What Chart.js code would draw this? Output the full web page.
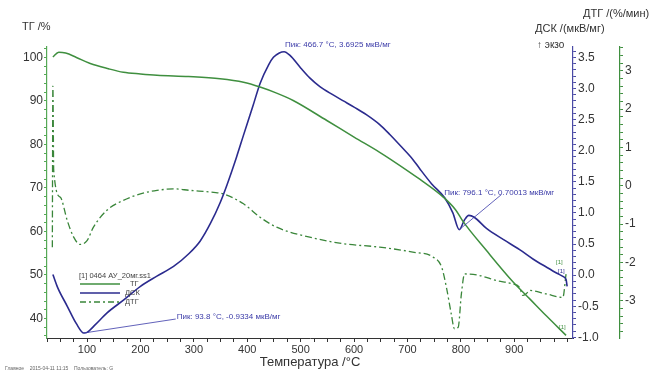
<!DOCTYPE html>
<html>
<head>
<meta charset="utf-8">
<script src="https://cdn.jsdelivr.net/npm/chart.js@4.4.0/dist/chart.umd.min.js"></script>
<style>
html, body { margin: 0; padding: 0; background: #fff; }
</style>
</head>
<body>
<canvas id="myChart" width="661" height="377"></canvas>
<script>
// temperatures (°C) and values
const tgTemp = [36, 47, 60, 80, 106, 140, 168, 200, 231, 290, 349, 393, 424, 455, 486, 549, 600, 648, 667, 723, 767, 790, 804, 848, 897, 929, 960, 997];
const tgValues = [100.1, 101.2, 101.0, 100.0, 98.6, 97.4, 96.6, 96.2, 95.9, 95.6, 95.1, 94.3, 93.2, 91.8, 90.1, 85.5, 81.7, 78.2, 76.7, 72.0, 67.9, 65.0, 62.3, 55.6, 48.5, 44.5, 40.6, 36.1];

const dscTemp = [36, 45, 63, 80, 94, 100, 115, 137, 170, 200, 230, 262, 290, 312, 331, 349, 362, 380, 393, 410, 424, 440, 449, 460, 469, 480, 500, 517, 536, 560, 580, 600, 623, 648, 667, 690, 710, 723, 745, 770, 785, 797, 807, 815, 825, 848, 880, 910, 935, 960, 980, 991, 997, 999];
const dscValues = [0.01, -0.2, -0.5, -0.78, -0.93, -0.92, -0.8, -0.61, -0.39, -0.18, -0.02, 0.14, 0.34, 0.55, 0.83, 1.16, 1.45, 1.9, 2.25, 2.7, 3.08, 3.38, 3.5, 3.57, 3.59, 3.53, 3.33, 3.17, 3.03, 2.9, 2.8, 2.7, 2.58, 2.42, 2.26, 2.05, 1.86, 1.71, 1.47, 1.24, 1.0, 0.73, 0.89, 0.96, 0.93, 0.75, 0.57, 0.41, 0.26, 0.13, 0.03, -0.02, -0.07, -0.18];

const dtgTemp = [35, 36, 37.6, 50, 63, 75, 87, 100, 112, 137, 168, 200, 231, 262, 293, 337, 355, 393, 424, 455, 517, 580, 648, 710, 748, 764, 773, 782, 788, 795, 801, 807, 835, 866, 897, 910, 916, 922, 929, 960, 991, 997];
const dtgValues = [-1.6, 2.6, 0.4, -0.3, -0.91, -1.34, -1.53, -1.43, -1.08, -0.64, -0.38, -0.21, -0.12, -0.08, -0.12, -0.17, -0.21, -0.47, -0.82, -1.08, -1.34, -1.51, -1.6, -1.73, -1.86, -2.12, -2.65, -3.34, -3.73, -3.69, -2.82, -2.3, -2.34, -2.47, -2.56, -2.65, -2.86, -2.82, -2.73, -2.82, -2.91, -2.3];

// peak labels: [temperature, dsc value, text]
const peakLabels = [
    [469, 3.59, 'Пик: 466.7 °C, 3.6925 мкВ/мг'],
    [93.8, -0.93, 'Пик: 93.8 °C, -0.9334 мкВ/мг'],
    [797, 0.73, 'Пик: 796.1 °C, 0.70013 мкВ/мг']
];

const seriesNames = ['ТГ', 'ДСК', 'ДТГ'];

const tgColor = '#3f8f3f';
const dscColor = '#2b2b8e';
const dtgColor = '#3a863a';
const font = '"Liberation Sans", Arial, sans-serif';

function pts(xs, ys) {
    return xs.map((x, i) => ({ x: x, y: ys[i] }));
}

function makeTicks(min, max, step) {
    let out = [];
    let start = Math.ceil(min / step - 1e-9);
    for (let i = start; i * step <= max + 1e-9; i++) {
        out.push({ value: +(i * step).toFixed(4) });
    }
    return out;
}

function isMajor(v, major) {
    return Math.abs(v / major - Math.round(v / major)) < 1e-6;
}

const overlay = {
    id: 'overlay',
    afterDraw(chart) {
        const c = chart.ctx;
        const xs = chart.scales.x, yd = chart.scales.yDSC;
        c.save();
        c.textBaseline = 'middle';
        c.textAlign = 'left';
        c.fillStyle = '#333';
        c.font = '11px ' + font;
        c.fillText('ТГ /%', 22, 27);
        c.fillText('ДТГ /(%/мин)', 583, 14);
        c.fillText('ДСК /(мкВ/мг)', 535, 29);
        c.font = '10px ' + font;
        c.fillText('↑ экзо', 537, 45);
        c.font = '13px ' + font;
        c.textAlign = 'center';
        c.fillText('Температура /°C', 310, 362);

        c.textAlign = 'left';
        c.font = '5px ' + font;
        c.fillStyle = '#666';
        c.fillText('Главное    2015-04-11 11:15    Пользователь: G', 5, 369);

        // legend
        c.font = '7.5px ' + font;
        c.fillStyle = '#444';
        c.fillText('[1] 0464 АУ_20мг.ss1', 79, 276);
        const rows = [[tgColor, [], 284], [dscColor, [], 293], [dtgColor, [6, 3, 2, 3], 302]];
        rows.forEach((r, i) => {
            c.strokeStyle = r[0];
            c.lineWidth = 1.3;
            c.setLineDash(r[1]);
            c.beginPath();
            c.moveTo(80, r[2]);
            c.lineTo(120, r[2]);
            c.stroke();
            c.setLineDash([]);
            c.fillStyle = '#444';
            c.fillText(seriesNames[i], i === 0 ? 130 : 125, r[2]);
        });

        // peak annotations
        c.font = '8px ' + font;
        c.fillStyle = '#3a3aa8';
        c.strokeStyle = '#3a3aa8';
        c.lineWidth = 0.8;
        const offs = [[1, -7, null], [93, -16, [92, -14]], [-15, -37, [42, -35]]];
        peakLabels.forEach((p, i) => {
            const px = xs.getPixelForValue(p[0]);
            const py = yd.getPixelForValue(p[1]);
            const o = offs[i];
            if (o[2]) {
                c.beginPath();
                c.moveTo(px, py);
                c.lineTo(px + o[2][0], py + o[2][1]);
                c.stroke();
            }
            c.fillText(p[2], px + o[0], py + o[1]);
        });

        // end-of-curve markers
        c.font = '6px ' + font;
        c.fillStyle = tgColor;
        c.fillText('[1]', 556, 262);
        c.fillText('[1]', 559, 327);
        c.fillStyle = dscColor;
        c.fillText('[1]', 558, 271);
        c.restore();
    }
};

const canvas = document.getElementById('myChart');
const ctx = canvas.getContext('2d');

const chart = new Chart(ctx, {
    type: 'line',
    data: {
        datasets: [{
            label: seriesNames[0],
            data: pts(tgTemp, tgValues),
            yAxisID: 'yTG',
            borderColor: tgColor,
            borderWidth: 1.5,
            pointRadius: 0,
            cubicInterpolationMode: 'monotone'
        }, {
            label: seriesNames[1],
            data: pts(dscTemp, dscValues),
            yAxisID: 'yDSC',
            borderColor: dscColor,
            borderWidth: 1.6,
            pointRadius: 0,
            cubicInterpolationMode: 'monotone'
        }, {
            label: seriesNames[2],
            data: pts(dtgTemp, dtgValues),
            yAxisID: 'yDTG',
            borderColor: dtgColor,
            borderWidth: 1.3,
            borderDash: [7, 3, 2, 3],
            pointRadius: 0,
            cubicInterpolationMode: 'monotone'
        }]
    },
    options: {
        responsive: false,
        animation: false,
        layout: { padding: { top: 47, left: 0, right: 0, bottom: 0 } },
        plugins: { legend: { display: false }, tooltip: { enabled: false } },
        scales: {
            x: {
                type: 'linear',
                min: 25,
                max: 1010,
                afterFit: function (s) { s.height = 39; },
                afterBuildTicks: function (s) { s.ticks = makeTicks(25, 1000, 25); },
                border: { color: '#333', width: 1 },
                grid: { drawOnChartArea: false, tickLength: 4, tickColor: '#333' },
                ticks: {
                    autoSkip: false, maxRotation: 0, padding: 1, color: '#333',
                    font: { size: 11, family: font },
                    callback: (v) => (isMajor(v, 100) && v >= 100 && v <= 900) ? v : ''
                }
            },
            yTG: {
                position: 'left',
                min: 35.5,
                max: 102.4,
                afterFit: function (s) { s.width = 47; },
                afterBuildTicks: function (s) { s.ticks = makeTicks(35.5, 102.4, 2); },
                border: { color: '#55a855', width: 1.2 },
                grid: { drawOnChartArea: false, tickLength: 3, tickColor: '#55a855' },
                ticks: {
                    autoSkip: false, padding: 1, color: '#333',
                    font: { size: 12, family: font },
                    callback: (v) => isMajor(v, 10) ? v : ''
                }
            },
            yDSC: {
                position: 'right',
                weight: 0,
                min: -1.01,
                max: 3.666,
                afterFit: function (s) { s.width = 47; },
                afterBuildTicks: function (s) { s.ticks = makeTicks(-1.01, 3.666, 0.1); },
                border: { color: '#4a4aa5', width: 1.2 },
                grid: { drawOnChartArea: false, tickLength: 3, tickColor: '#4a4aa5' },
                ticks: {
                    autoSkip: false, padding: 2, color: '#333',
                    font: { size: 12, family: font },
                    callback: (v) => isMajor(v, 0.5) ? v.toFixed(1) : ''
                }
            },
            yDTG: {
                position: 'right',
                weight: 1,
                min: -3.97,
                max: 3.62,
                afterFit: function (s) { s.width = 41; },
                afterBuildTicks: function (s) { s.ticks = makeTicks(-3.97, 3.62, 0.2); },
                border: { color: '#3f8f3f', width: 1.2 },
                grid: { drawOnChartArea: false, tickLength: 3, tickColor: '#3f8f3f' },
                ticks: {
                    autoSkip: false, padding: 2, color: '#333',
                    font: { size: 12, family: font },
                    callback: (v) => isMajor(v, 1) ? Math.round(v) : ''
                }
            }
        }
    },
    plugins: [overlay]
});
</script>
</body>
</html>
